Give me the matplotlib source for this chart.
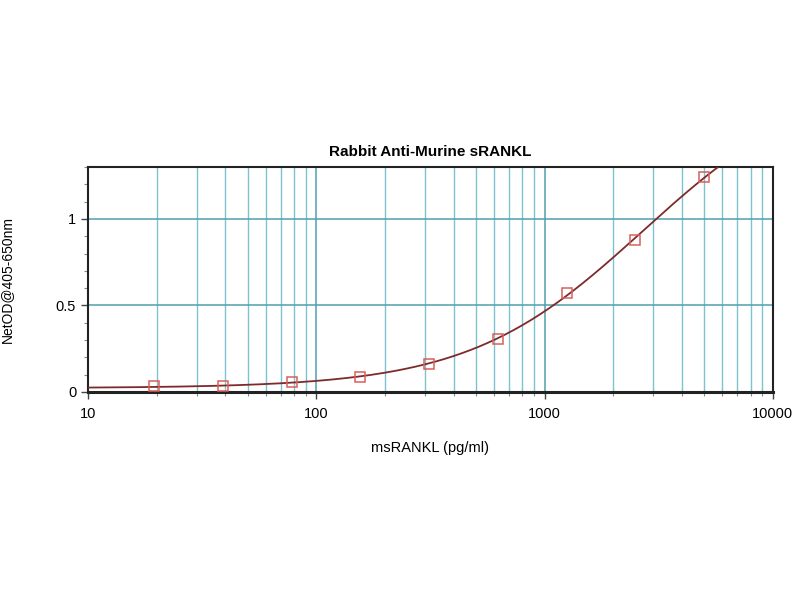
import numpy as np
import matplotlib
matplotlib.use("Agg")
import matplotlib.pyplot as plt
from matplotlib.ticker import LogLocator, FixedLocator, MultipleLocator, NullFormatter

plt.rcParams['font.family'] = ['Liberation Sans', 'DejaVu Sans']

# standard curve data
conc = [19.5, 39.0, 78.0, 156.0, 312.5, 625.0, 1250.0, 2500.0, 5000.0]
od = [0.032, 0.035, 0.058, 0.087, 0.162, 0.306, 0.572, 0.880, 1.240]

title = "Rabbit Anti-Murine sRANKL"
xlabel = "msRANKL (pg/ml)"
ylabel = "NetOD@405-650nm"
xtick_vals = [10, 100, 1000, 10000]
xtick_labels = ["10", "100", "1000", "10000"]
ytick_vals = [0, 0.5, 1]
ytick_labels = ["0", "0.5", "1"]

# 4 parameter logistic fit: y = a + D / (1 + (c/x)^b)
x = np.array(conc)
y = np.array(od)
best = None
for b in np.linspace(0.6, 2.5, 96):
    for c in np.logspace(2.5, 5.5, 301):
        g = 1.0 / (1.0 + (c / x) ** b)
        A = np.column_stack([np.ones_like(g), g])
        coef, res, _, _ = np.linalg.lstsq(A, y, rcond=None)
        err = np.sum((A @ coef - y) ** 2)
        if best is None or err < best[0]:
            best = (err, b, c, coef)
_, fb, fc, (fa, fD) = best

xs = np.logspace(1, 4, 400)
ys = fa + fD / (1.0 + (fc / xs) ** fb)

fig = plt.figure(figsize=(8, 6), dpi=100)
ax = fig.add_axes([0.11, 0.3467, 0.856, 0.375])

ax.set_xscale("log")
ax.set_xlim(10, 10000)
ax.set_ylim(0, 1.3)

ax.xaxis.set_major_locator(FixedLocator(xtick_vals))
ax.set_xticks(xtick_vals)
ax.set_xticklabels(xtick_labels)
ax.xaxis.set_minor_locator(LogLocator(base=10, subs=np.arange(2, 10)))
ax.xaxis.set_minor_formatter(NullFormatter())
ax.set_yticks(ytick_vals)
ax.set_yticklabels(ytick_labels)
ax.yaxis.set_minor_locator(MultipleLocator(0.1))

ax.grid(True, which="major", axis="both", color="#4e9fae", linewidth=1.1)
ax.grid(True, which="minor", axis="x", color="#7dc2ce", linewidth=1.0)
ax.set_axisbelow(True)

ax.plot(xs, ys, color="#7e2a2a", linewidth=1.3, zorder=3)
ax.plot(conc, od, linestyle="none", marker="s", markersize=7,
        markerfacecolor="none", markeredgecolor="#d9605a", markeredgewidth=1.1, zorder=4)

for s in ax.spines.values():
    s.set_linewidth(1.5)
    s.set_color("#222222")
ax.spines["bottom"].set_linewidth(2.2)

ax.tick_params(axis="both", which="major", labelsize=10.5, length=5, width=1, color="#444444")
ax.tick_params(axis="both", which="minor", length=3, width=0.8, color="#888888")
ax.tick_params(axis="x", pad=6)

ax.set_title(title, fontsize=11, fontweight="bold", pad=8)
ax.set_xlabel(xlabel, fontsize=10.5, labelpad=14)
ax.set_ylabel(ylabel, fontsize=10, labelpad=30)

fig.savefig("out.png", dpi=100)
